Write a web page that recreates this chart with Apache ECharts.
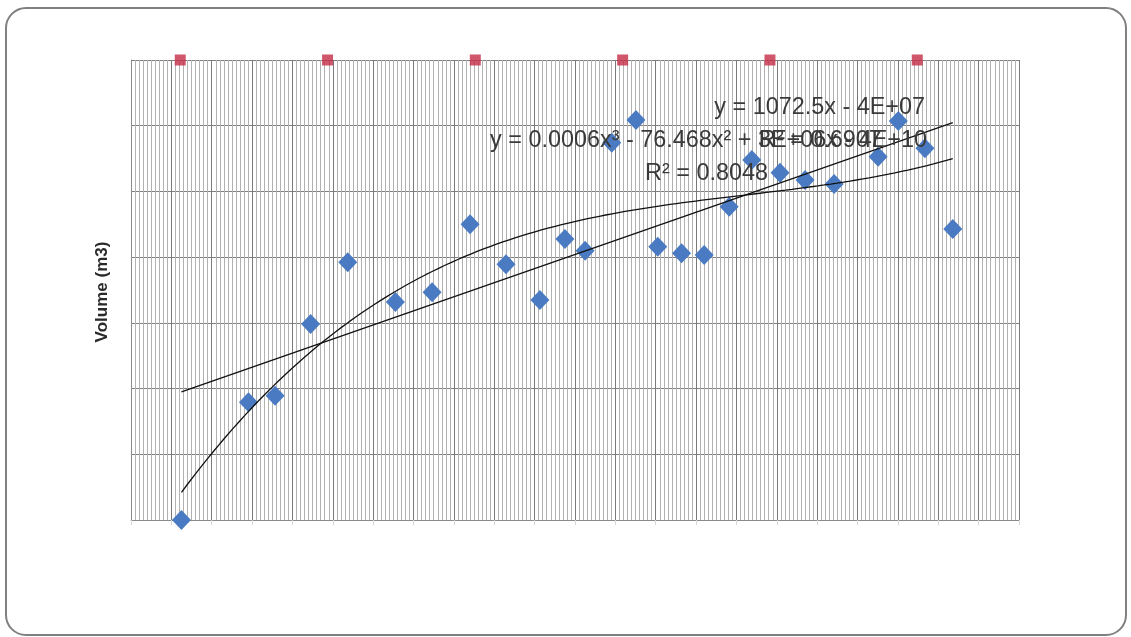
<!DOCTYPE html>
<html>
<head>
<meta charset="utf-8">
<script src="https://cdn.jsdelivr.net/npm/echarts@6/dist/echarts.min.js"></script>
<style>
html, body { margin: 0; padding: 0; background: #ffffff; }
#chart { width: 1131px; height: 637px; }
</style>
</head>
<body>
<div id="chart"></div>
<script>
// Measurement dates (Excel date serials) and measured volumes (m3)
const sampleDates = [37625, 37791, 37857, 37945, 38037, 38155, 38246, 38340, 38429, 38513,
  38575, 38625, 38691, 38751, 38805, 38864, 38920, 38982, 39038, 39108,
  39170, 39242, 39351, 39401, 39467, 39536];
const volumes = [0, 895600, 945800, 1491300, 1960800, 1658700, 1732500, 2249900, 1945500, 1673900,
  2138000, 2049100, 2870800, 3043500, 2079500, 2029300, 2016300, 2383800, 2739100, 2642500,
  2587000, 2556500, 2764300, 3035900, 2828200, 2214100];

// Year markers (1 January of each year), shown along the top of the plot
const yearMarkDates = [37622, 37987, 38353, 38718, 39083, 39448];
const yearMarkLevels = [3500000, 3500000, 3500000, 3500000, 3500000, 3500000];

// Trendline equations as reported
const linearSlope = 1072.5;
const linearEquation = 'y = 1072.5x - 4E+07';
const linearR2 = 'R\u00b2 = 0.6907';
const cubicEquation = 'y = 0.0006x\u00b3 - 76.468x\u00b2 + 3E+06x - 4E+10';
const cubicR2 = 'R\u00b2 = 0.8048';

const yAxisTitle = 'Volume (m3)';

// ---- trendlines ----
const n = sampleDates.length;
const meanX = sampleDates.reduce((a, b) => a + b, 0) / n;
const meanY = volumes.reduce((a, b) => a + b, 0) / n;
const xFirst = Math.min(...sampleDates);
const xLast = Math.max(...sampleDates);

// linear: reported slope, passing through the centroid of the data
const linearIntercept = meanY - linearSlope * meanX;
const linearLine = [xFirst, xLast].map(x => [x, linearSlope * x + linearIntercept]);

// cubic least squares on a centred / scaled x
function cubicFit(xs, ys) {
  const s = 1000;
  const t = xs.map(x => (x - meanX) / s);
  const A = [[0,0,0,0],[0,0,0,0],[0,0,0,0],[0,0,0,0]];
  const b = [0,0,0,0];
  for (let k = 0; k < t.length; k++) {
    const p = [1, t[k], t[k] ** 2, t[k] ** 3];
    for (let i = 0; i < 4; i++) {
      b[i] += p[i] * ys[k];
      for (let j = 0; j < 4; j++) A[i][j] += p[i] * p[j];
    }
  }
  for (let i = 0; i < 4; i++) {
    let piv = i;
    for (let r = i + 1; r < 4; r++) if (Math.abs(A[r][i]) > Math.abs(A[piv][i])) piv = r;
    [A[i], A[piv]] = [A[piv], A[i]];
    [b[i], b[piv]] = [b[piv], b[i]];
    for (let r = i + 1; r < 4; r++) {
      const f = A[r][i] / A[i][i];
      for (let c = i; c < 4; c++) A[r][c] -= f * A[i][c];
      b[r] -= f * b[i];
    }
  }
  const c = [0,0,0,0];
  for (let i = 3; i >= 0; i--) {
    let sum = b[i];
    for (let j = i + 1; j < 4; j++) sum -= A[i][j] * c[j];
    c[i] = sum / A[i][i];
  }
  return x => {
    const u = (x - meanX) / s;
    return c[0] + c[1] * u + c[2] * u * u + c[3] * u * u * u;
  };
}
const cubic = cubicFit(sampleDates, volumes);
const cubicLine = [];
for (let i = 0; i <= 120; i++) {
  const x = xFirst + (xLast - xFirst) * i / 120;
  cubicLine.push([x, cubic(x)]);
}

const labelFont = '"Liberation Sans", Arial, sans-serif';
const labelColor = '#3a3a3a';
const eqFont = '23.4px ' + labelFont;

const chart = echarts.init(document.getElementById('chart'), null, { renderer: 'canvas' });
chart.setOption({
  animation: false,
  backgroundColor: '#ffffff',
  grid: { left: 131, right: 112, top: 60, bottom: 117, containLabel: false },
  xAxis: {
    type: 'value',
    min: 37500,
    max: 39700,
    interval: 100,
    axisLine: { show: true, onZero: false, lineStyle: { color: '#8a8a8a', width: 1 } },
    axisTick: { show: true, length: 5, lineStyle: { color: '#d8d8d8' } },
    axisLabel: { show: false },
    splitLine: { show: true, lineStyle: { color: '#7a7a7a', width: 1 } },
    minorTick: { show: false, splitNumber: 10 },
    minorSplitLine: { show: true, lineStyle: { color: '#b2b2b2', width: 1 } }
  },
  yAxis: {
    type: 'value',
    min: 0,
    max: 3500000,
    interval: 500000,
    axisLine: { show: true, lineStyle: { color: '#8a8a8a', width: 1 } },
    axisTick: { show: false },
    axisLabel: { show: false },
    splitLine: { show: true, lineStyle: { color: '#7e7e7e', width: 1 } }
  },
  series: [
    {
      name: 'Volume',
      type: 'scatter',
      data: sampleDates.map((d, i) => [d, volumes[i]]),
      symbol: 'diamond',
      symbolSize: [19, 20],
      itemStyle: { color: '#4a7bc2', opacity: 1 },
      z: 3
    },
    {
      name: 'Year',
      type: 'scatter',
      data: yearMarkDates.map((d, i) => [d, yearMarkLevels[i]]),
      symbol: 'rect',
      symbolSize: 11,
      itemStyle: { color: '#c42c46' },
      z: 3
    },
    {
      name: 'Linear trend',
      type: 'line',
      data: linearLine,
      showSymbol: false,
      symbol: 'none',
      lineStyle: { color: '#111111', width: 1.3 },
      z: 4
    },
    {
      name: 'Cubic trend',
      type: 'line',
      data: cubicLine,
      showSymbol: false,
      symbol: 'none',
      smooth: false,
      lineStyle: { color: '#111111', width: 1.3 },
      z: 4
    }
  ],
  graphic: [
    {
      type: 'rect',
      shape: { x: 6, y: 8, width: 1120, height: 627, r: 20 },
      style: { fill: 'none', stroke: '#808080', lineWidth: 2 },
      silent: true, z: 0
    },
    {
      type: 'text', x: 102, y: 292, rotation: Math.PI / 2,
      style: { text: yAxisTitle, font: 'bold 17px ' + labelFont, fill: '#2a2a2a',
        textAlign: 'center', textVerticalAlign: 'middle' },
      z: 10
    },
    {
      type: 'text', x: 925, y: 108,
      style: { text: linearEquation, font: eqFont, fill: labelColor,
        textAlign: 'right', textVerticalAlign: 'middle' },
      z: 10
    },
    {
      type: 'text', x: 927, y: 141,
      style: { text: cubicEquation, font: eqFont, fill: labelColor,
        textAlign: 'right', textVerticalAlign: 'middle' },
      z: 10
    },
    {
      type: 'text', x: 759, y: 141,
      style: { text: linearR2, font: eqFont, fill: labelColor,
        textAlign: 'left', textVerticalAlign: 'middle' },
      z: 10
    },
    {
      type: 'text', x: 768, y: 174,
      style: { text: cubicR2, font: eqFont, fill: labelColor,
        textAlign: 'right', textVerticalAlign: 'middle' },
      z: 10
    }
  ]
});
</script>
</body>
</html>
